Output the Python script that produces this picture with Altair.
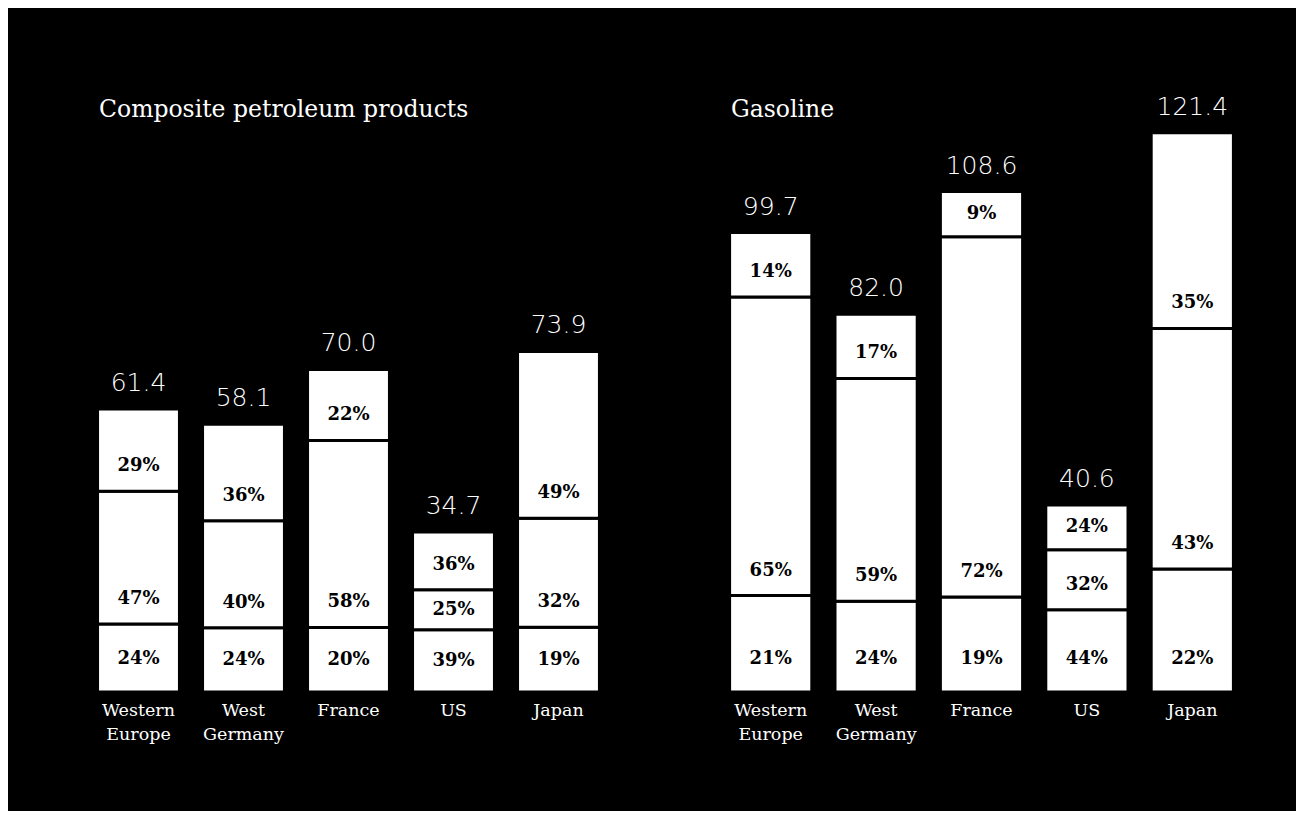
import altair as alt
import pandas as pd

countries = ["Western Europe", "West Germany", "France", "US", "Japan"]
segments = ["Bottom share", "Middle share", "Top share"]

composite_totals = [61.4, 58.1, 70.0, 34.7, 73.9]
composite_bottom = [24, 24, 20, 39, 19]
composite_middle = [47, 40, 58, 25, 32]
composite_top = [29, 36, 22, 36, 49]

gasoline_totals = [99.7, 82.0, 108.6, 40.6, 121.4]
gasoline_bottom = [21, 24, 19, 44, 22]
gasoline_middle = [65, 59, 72, 32, 43]
gasoline_top = [14, 17, 9, 24, 35]

Y_MAX = 130
PLOT_H = 599
PX_PER_UNIT = PLOT_H / Y_MAX


def build(totals, bottom, middle, top):
    seg_rows, tot_rows = [], []
    for i, c in enumerate(countries):
        tot = totals[i]
        tot_rows.append({"country": c, "total": tot, "label": f"{tot:.1f}"})
        start = 0.0
        for k, pct in enumerate([bottom[i], middle[i], top[i]]):
            h = tot * pct / 100.0
            off_px = 33 if k == 0 else 25
            off = min(off_px / PX_PER_UNIT, h / 2)
            seg_rows.append({
                "country": c, "segment": segments[k], "order": k,
                "start": start, "end": start + h,
                "labelpos": start + off, "pct": f"{pct}%",
            })
            start += h
    return pd.DataFrame(seg_rows), pd.DataFrame(tot_rows)


def panel(title, totals, bottom, middle, top, width):
    seg_df, tot_df = build(totals, bottom, middle, top)
    xenc = alt.X(
        "country:N", sort=countries,
        scale=alt.Scale(paddingInner=0.22, paddingOuter=0.11),
        axis=alt.Axis(
            title=None, labelAngle=0, domain=False, ticks=False,
            labelExpr="split(datum.label, ' ')",
            labelFont="DejaVu Serif", labelFontSize=17.5, labelColor="white",
            labelPadding=9, labelLineHeight=24,
        ),
    )
    yscale = alt.Scale(domain=[0, Y_MAX], nice=False)
    bars = alt.Chart(seg_df).mark_bar(
        color="white", stroke="black", strokeWidth=3
    ).encode(
        x=xenc,
        y=alt.Y("start:Q", scale=yscale, axis=None),
        y2="end:Q",
    )
    pct = alt.Chart(seg_df).mark_text(
        font="DejaVu Serif", fontWeight="bold", fontSize=18,
        color="black", baseline="middle",
    ).encode(
        x=alt.X("country:N", sort=countries),
        y=alt.Y("labelpos:Q", scale=yscale),
        text="pct:N",
    )
    tots = alt.Chart(tot_df).mark_text(
        font="DejaVu Sans", fontWeight=200, fontSize=25,
        color="white", baseline="middle", dy=-26,
    ).encode(
        x=alt.X("country:N", sort=countries),
        y=alt.Y("total:Q", scale=yscale),
        text="label:N",
    )
    return alt.layer(bars, pct, tots).properties(
        width=width, height=PLOT_H,
        title=alt.TitleParams(
            title, anchor="start", dx=13, font="DejaVu Serif",
            fontSize=23.5, fontWeight="normal", color="white", offset=-28,
        ),
    )


left = panel("Composite petroleum products", composite_totals,
             composite_bottom, composite_middle, composite_top, 525)
right = panel("Gasoline", gasoline_totals,
              gasoline_bottom, gasoline_middle, gasoline_top, 527)

chart = alt.hconcat(left, right, spacing=107).properties(
    background="black",
    padding={"left": 78, "top": 85, "right": 51, "bottom": 68},
).configure_view(stroke=None)

chart.save("out.html", embed_options={"renderer": "svg", "actions": False})
